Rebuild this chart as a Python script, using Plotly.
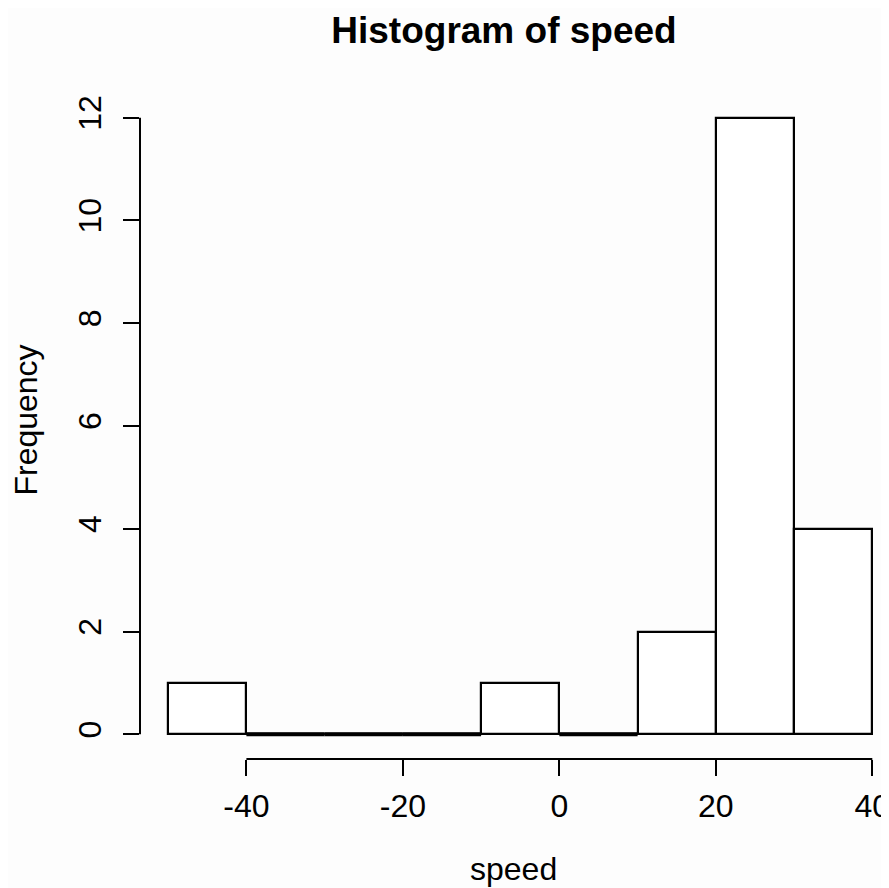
import plotly.graph_objects as go

# Data (histogram of speed, R-style breaks of width 10)
bin_edges = [-50, -40, -30, -20, -10, 0, 10, 20, 30, 40]
counts = [1, 0, 0, 0, 1, 0, 2, 12, 4]
x_ticks = [-40, -20, 0, 20, 40]
y_ticks = [0, 2, 4, 6, 8, 10, 12]

lefts = bin_edges[:-1]
widths = [b - a for a, b in zip(bin_edges[:-1], bin_edges[1:])]

FONT = "Liberation Sans"
BG = "#fdfdfd"

# page body has an 8px margin, so the figure is sized to fill the window
W, H = 881, 880
L, T, B = 131.5, 85, 129
PX_PER_X = 7.829

fig = go.Figure()

fig.add_trace(go.Bar(
    x=lefts, y=counts, width=widths, offset=0,
    marker=dict(color="white", line=dict(color="black", width=2.2)),
    hoverinfo="skip", showlegend=False,
))

# zero-height bins drawn as flat outlines at y=0 (as R does)
zx, zy = [], []
for a, b, c in zip(bin_edges[:-1], bin_edges[1:], counts):
    if c == 0:
        zx += [a, b, None]
        zy += [0, 0, None]
fig.add_trace(go.Scatter(x=zx, y=zy, mode="lines",
                         line=dict(color="black", width=4),
                         hoverinfo="skip", showlegend=False))

plot_w = W - L
plot_h = H - T - B
xr = [-53.6, -53.6 + plot_w / PX_PER_X]
yr = [-0.48, 12.48]
bottom = H - B

fig.update_layout(
    width=W, height=H,
    margin=dict(l=L, r=0, t=T, b=B, autoexpand=False),
    paper_bgcolor=BG, plot_bgcolor=BG,
    font=dict(family=FONT, size=32, color="black"),
    bargap=0,
    title=dict(text="<b>Histogram of speed</b>", x=496 / W, xanchor="center",
               xref="container", automargin=False,
               y=1 - 22 / H, yanchor="middle", yref="container",
               font=dict(family=FONT, size=37, color="black")),
    xaxis=dict(range=xr, tickvals=x_ticks, ticktext=[str(v) for v in x_ticks],
               showgrid=False, zeroline=False, showline=False, automargin=False,
               ticks="outside", ticklen=16, tickwidth=2, tickcolor="black",
               ticklabelstandoff=3, ticklabeloverflow="allow",
               tickfont=dict(family=FONT, size=32)),
    yaxis=dict(range=yr, tickvals=y_ticks, ticktext=[str(v) for v in y_ticks],
               showgrid=False, zeroline=False, showline=False, automargin=False,
               ticks="outside", ticklen=16, tickwidth=2, tickcolor="black",
               tickangle=-90, ticklabelstandoff=9, ticklabeloverflow="allow",
               tickfont=dict(family=FONT, size=32)),
    shapes=[
        dict(type="line", xref="x", yref="paper", x0=x_ticks[0], x1=x_ticks[-1],
             y0=0, y1=0, line=dict(color="black", width=2)),
        dict(type="line", xref="paper", yref="y", x0=0, x1=0,
             y0=y_ticks[0], y1=y_ticks[-1], line=dict(color="black", width=2)),
    ],
    annotations=[
        dict(text="speed", xref="paper", yref="paper", x=(505 - L) / plot_w,
             y=(bottom - 861) / plot_h, xanchor="center", yanchor="middle",
             showarrow=False, font=dict(family=FONT, size=32)),
        dict(text="Frequency", xref="paper", yref="paper", x=(16.5 - L) / plot_w,
             y=(bottom - 412.5) / plot_h, xanchor="center", yanchor="middle",
             textangle=-90, showarrow=False, font=dict(family=FONT, size=32)),
    ],
)

fig.write_html("out.html")
